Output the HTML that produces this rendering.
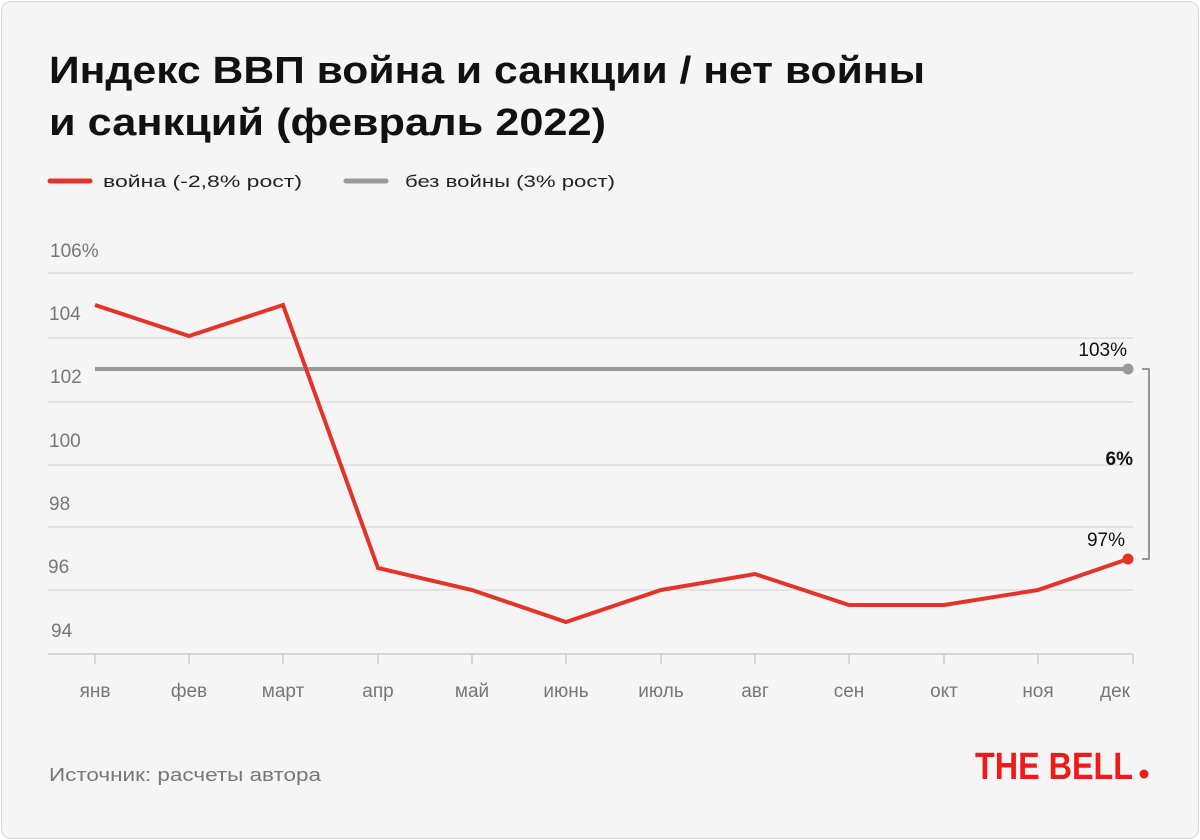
<!DOCTYPE html><html><head><meta charset="utf-8"><style>
body{margin:0;background:#fff;}
.card{position:absolute;left:1px;top:1px;width:1196px;height:836px;background:#f5f5f5;border:1px solid #d6d6d6;border-radius:10px;}
svg{position:absolute;left:0;top:0;}
text{font-family:"Liberation Sans","DejaVu Sans",sans-serif;}
</style></head><body><div class="card"></div>
<svg width="1200" height="840">
<text x="49" y="83" font-size="38" font-weight="bold" fill="#111" textLength="876" lengthAdjust="spacingAndGlyphs">Индекс ВВП война и санкции / нет войны</text>
<text x="49" y="135" font-size="38" font-weight="bold" fill="#111" textLength="557" lengthAdjust="spacingAndGlyphs">и санкций (февраль 2022)</text>
<line x1="50" y1="181" x2="90" y2="181" stroke="#e3342a" stroke-width="5" stroke-linecap="round"/>
<text x="103" y="187" font-size="17" fill="#222" textLength="199" lengthAdjust="spacingAndGlyphs">война (-2,8% рост)</text>
<line x1="346" y1="181" x2="386" y2="181" stroke="#999" stroke-width="5" stroke-linecap="round"/>
<text x="405" y="187" font-size="17" fill="#222" textLength="210" lengthAdjust="spacingAndGlyphs">без войны (3% рост)</text>
<g stroke="#ddd" stroke-width="1.5">
<line x1="48" y1="273" x2="1133" y2="273"/><line x1="48" y1="338" x2="1133" y2="338"/><line x1="48" y1="402" x2="1133" y2="402"/><line x1="48" y1="465" x2="1133" y2="465"/><line x1="48" y1="527" x2="1133" y2="527"/><line x1="48" y1="590" x2="1133" y2="590"/></g>
<g stroke="#ccc" stroke-width="1.5"><line x1="48" y1="654" x2="1133" y2="654"/>
<line x1="95" y1="654" x2="95" y2="664"/><line x1="189" y1="654" x2="189" y2="664"/><line x1="283" y1="654" x2="283" y2="664"/><line x1="378" y1="654" x2="378" y2="664"/><line x1="472" y1="654" x2="472" y2="664"/><line x1="566" y1="654" x2="566" y2="664"/><line x1="661" y1="654" x2="661" y2="664"/><line x1="755" y1="654" x2="755" y2="664"/><line x1="849" y1="654" x2="849" y2="664"/><line x1="944" y1="654" x2="944" y2="664"/><line x1="1038" y1="654" x2="1038" y2="664"/><line x1="1133" y1="654" x2="1133" y2="664"/></g>
<g font-size="19" fill="#777">
<text x="50" y="257">106%</text><text x="49" y="320">104</text><text x="50" y="383">102</text><text x="49" y="447">100</text><text x="49" y="510">98</text><text x="48" y="573">96</text><text x="51" y="637">94</text></g>
<g font-size="19" fill="#777" text-anchor="middle">
<text x="95" y="697">янв</text><text x="189" y="697">фев</text><text x="283" y="697">март</text><text x="378" y="697">апр</text><text x="472" y="697">май</text><text x="566" y="697">июнь</text><text x="661" y="697">июль</text><text x="755" y="697">авг</text><text x="849" y="697">сен</text><text x="944" y="697">окт</text><text x="1038" y="697">ноя</text><text x="1115" y="697">дек</text></g>
<line x1="95" y1="369" x2="1128" y2="369" stroke="#999" stroke-width="4"/>
<circle cx="1128" cy="369" r="5.5" fill="#999"/>
<polyline fill="none" stroke="#e3342a" stroke-width="4" stroke-linejoin="miter" points="95,305 189,336 283,305 378,568 472,590 566,622 661,590 755,574 849,605 944,605 1038,590 1128,559"/>
<circle cx="1128" cy="559" r="5.5" fill="#e3342a"/>
<polyline fill="none" stroke="#777" stroke-width="1.5" points="1142,369 1149,369 1149,559 1142,559"/>
<g font-size="19" fill="#111" text-anchor="end">
<text x="1127" y="356">103%</text><text x="1133" y="465" font-weight="bold">6%</text><text x="1125" y="546">97%</text></g>
<text x="49" y="781" font-size="18" fill="#777" textLength="272" lengthAdjust="spacingAndGlyphs">Источник: расчеты автора</text>
<text x="975" y="779" font-size="38" font-weight="bold" fill="#f01a1a" textLength="158" lengthAdjust="spacingAndGlyphs">THE BELL</text>
<circle cx="1144" cy="774" r="4.5" fill="#f01a1a"/>
</svg></body></html>
